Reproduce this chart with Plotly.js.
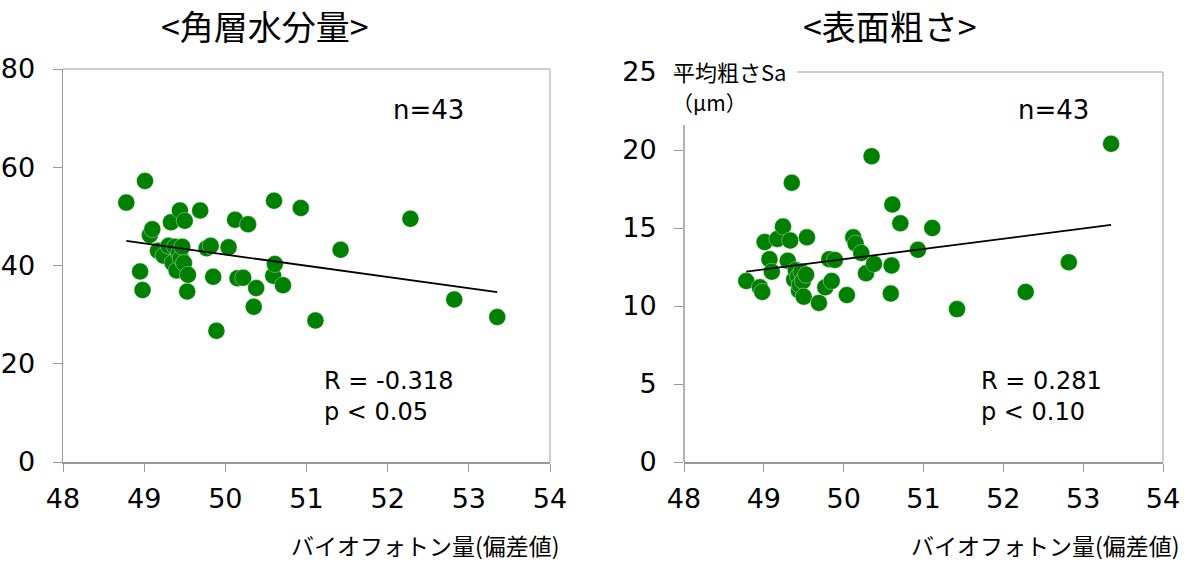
<!DOCTYPE html>
<html><head><meta charset="utf-8">
<script src="https://cdn.plot.ly/plotly-3.0.1.min.js"></script>
<style>html,body{margin:0;padding:0;background:#fff}#chart{width:1185px;height:562px}</style>
</head><body><div id="chart"></div>
<script>
// Biophoton amount (deviation value) shared by both panels
const biophoton = [48.78, 48.95, 48.98, 49.01, 49.07, 49.10,
  49.17, 49.24, 49.30, 49.33, 49.35, 49.38, 49.40, 49.43, 49.44, 49.45, 49.47, 49.49, 49.50, 49.53, 49.54,
  49.69, 49.77, 49.82, 49.85, 49.89, 50.04, 50.12, 50.15, 50.22, 50.28, 50.35, 50.38, 50.59, 50.60, 50.61,
  50.71, 50.93, 51.11, 51.42, 52.28, 52.82, 53.35];
// Stratum corneum water content
const moisture = [52.8, 38.8, 35.0, 57.2, 46.2, 47.4,
  43.0, 42.0, 44.0, 48.8, 40.5, 43.8, 39.0, 42.5, 51.2, 41.5, 43.8, 40.5, 49.1, 34.7, 38.1,
  51.2, 43.5, 44.0, 37.7, 26.7, 43.7, 49.3, 37.4, 37.5, 48.4, 31.6, 35.4, 37.9, 53.2, 40.3,
  36.0, 51.7, 28.8, 43.2, 49.5, 33.1, 29.5];
// Surface roughness Sa (µm)
const roughness = [11.6, 11.2, 10.9, 14.1, 13.0, 12.2,
  14.3, 15.1, 12.9, 14.2, 17.9, 11.7, 12.3, 11.9, 11.0, 11.35, 12.2, 11.6, 10.6, 12.0, 14.4,
  10.2, 11.2, 13.0, 11.6, 12.95, 10.7, 14.4, 14.0, 13.4, 12.1, 19.6, 12.7, 10.8, 12.6, 16.5,
  15.3, 13.6, 15.0, 9.8, 10.9, 12.8, 20.4];
// Fitted trend lines
const fitX = [48.78, 53.35];
const fitMoisture = [45.0, 34.6];
const fitRoughness = [12.2, 15.2];
const xTicks = [48, 49, 50, 51, 52, 53, 54];
const moistureTicks = [0, 20, 40, 60, 80];
const roughnessTicks = [0, 5, 10, 15, 20, 25];

const FONT = '"Noto Sans CJK JP", "Noto Sans", sans-serif';
const NUMFONT = '"DejaVu Sans", "Noto Sans", sans-serif';
const green = '#008000';
const W = 1185, H = 562;
const px = v => v / W, py = v => 1 - v / H;

const traces = [
  {x: biophoton, y: moisture, type: 'scatter', mode: 'markers', xaxis: 'x', yaxis: 'y',
   marker: {color: green, size: 17, line: {color: 'rgba(255,255,255,0.6)', width: 0.6}}},
  {x: fitX, y: fitMoisture, type: 'scatter', mode: 'lines', xaxis: 'x', yaxis: 'y',
   line: {color: '#000', width: 1.8}},
  {x: biophoton, y: roughness, type: 'scatter', mode: 'markers', xaxis: 'x2', yaxis: 'y2',
   marker: {color: green, size: 17, line: {color: 'rgba(255,255,255,0.6)', width: 0.6}}},
  {x: fitX, y: fitRoughness, type: 'scatter', mode: 'lines', xaxis: 'x2', yaxis: 'y2',
   line: {color: '#000', width: 1.8}}
];

const axFont = {family: NUMFONT, size: 27, color: '#000'};
const xCommon = {range: [48, 54], tickvals: xTicks, ticks: 'outside', ticklen: 8, tickcolor: '#999',
  showline: true, linecolor: '#999', linewidth: 1.5, showgrid: false, zeroline: false, tickfont: axFont,
  ticklabelstandoff: 4};
const yCommon = {ticks: 'outside', ticklen: 9, tickcolor: '#999', showgrid: false, zeroline: false,
  tickfont: axFont, ticklabelstandoff: 12};

function ann(text, x, y, size, font, extra) {
  return Object.assign({text: text, xref: 'paper', yref: 'paper', x: px(x), y: py(y), xanchor: 'center',
    yanchor: 'middle', showarrow: false, font: {family: font, size: size, color: '#000'}}, extra || {});
}

const layout = {
  width: W, height: H, margin: {l: 0, r: 0, t: 0, b: 0},
  paper_bgcolor: '#fff', plot_bgcolor: '#fff', showlegend: false,
  xaxis: Object.assign({}, xCommon, {domain: [px(63), px(550)], anchor: 'y'}),
  yaxis: Object.assign({}, yCommon, {domain: [py(462), py(69)], range: [0, 80], tickvals: moistureTicks,
    showline: true, linecolor: '#999', linewidth: 1.5, anchor: 'x'}),
  xaxis2: Object.assign({}, xCommon, {domain: [px(684), px(1163)], anchor: 'y2'}),
  yaxis2: Object.assign({}, yCommon, {domain: [py(462), py(72)], range: [0, 25], tickvals: roughnessTicks,
    showline: false, anchor: 'x2'}),
  shapes: [
    {type: 'line', xref: 'paper', yref: 'paper', x0: px(63), x1: px(550), y0: py(69), y1: py(69), line: {color: '#c0c0c0', width: 1.5}},
    {type: 'line', xref: 'paper', yref: 'paper', x0: px(550), x1: px(550), y0: py(69), y1: py(462), line: {color: '#c0c0c0', width: 1.5}},
    {type: 'line', xref: 'paper', yref: 'paper', x0: px(797), x1: px(1163), y0: py(72), y1: py(72), line: {color: '#c0c0c0', width: 1.5}},
    {type: 'line', xref: 'paper', yref: 'paper', x0: px(1163), x1: px(1163), y0: py(72), y1: py(462), line: {color: '#c0c0c0', width: 1.5}},
    {type: 'line', xref: 'paper', yref: 'paper', x0: px(684), x1: px(684), y0: py(125), y1: py(462), line: {color: '#999', width: 1.5}}
  ],
  annotations: [
    ann('&lt;角層水分量&gt;', 265, 25, 34, FONT),
    ann('&lt;表面粗さ&gt;', 890, 25, 34, FONT),
    ann('n=43', 428, 110, 26, NUMFONT),
    ann('n=43', 1053, 110, 26, NUMFONT),
    ann('R = -0.318', 322, 381, 24, NUMFONT, {xanchor: 'left'}),
    ann('p &lt; 0.05', 322, 412, 24, NUMFONT, {xanchor: 'left'}),
    ann('R = 0.281', 979, 381, 24, NUMFONT, {xanchor: 'left'}),
    ann('p &lt; 0.10', 979, 412, 24, NUMFONT, {xanchor: 'left'}),
    ann('バイオフォトン量(偏差値)', 425, 545, 23, FONT),
    ann('バイオフォトン量(偏差値)', 1045, 545, 23, FONT),
    ann('平均粗さSa', 671, 71, 22, FONT, {xanchor: 'left'}),
    ann('（μm）', 670, 102, 21, FONT, {xanchor: 'left'})
  ]
};
Plotly.newPlot('chart', traces, layout, {staticPlot: true, displayModeBar: false});
</script></body></html>
